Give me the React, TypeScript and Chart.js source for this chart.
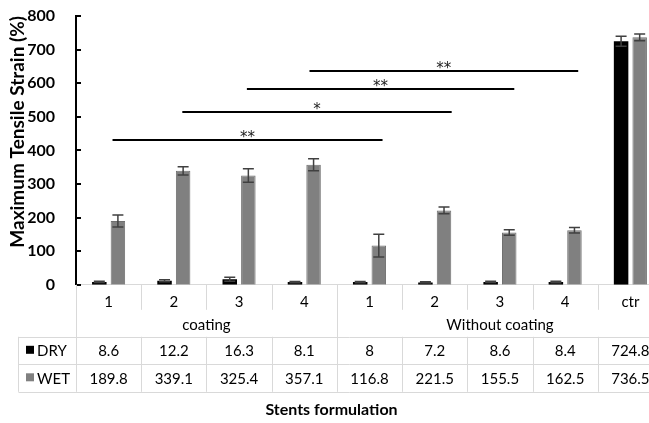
import React, { useEffect, useRef } from "react";
import { Chart, registerables } from "chart.js";

Chart.register(...registerables);

const FONT = "Lato, 'Open Sans', sans-serif";
const STAR_FONT = "'DejaVu Sans', sans-serif";

const categories = ["1", "2", "3", "4", "1", "2", "3", "4", "ctr"];
const groupLabels = ["coating", "Without coating"];
const groupStart = [0, 4];
const groupEnd = [3, 8];
const dryValues = [8.6, 12.2, 16.3, 8.1, 8, 7.2, 8.6, 8.4, 724.8];
const wetValues = [189.8, 339.1, 325.4, 357.1, 116.8, 221.5, 155.5, 162.5, 736.5];
const dryErrors = [2, 3, 6, 2, 2, 2, 2, 2, 15];
const wetErrors = [18, 12, 20, 18, 34, 10, 8, 8, 10];
const yTicks = [0, 100, 200, 300, 400, 500, 600, 700, 800];
const sigFrom = [0.06, 1.13, 2.12, 3.08];
const sigTo = [4.2, 5.26, 6.22, 7.2];
const sigLevel = [431, 515, 582, 637];
const sigLabel = ["**", "*", "**", "**"];

const DRY_COLOR = "#000000";
const WET_COLOR = "#808080";
const GRID = "#d9d9d9";

const errorPlugin = {
  id: "errorBars",
  afterDatasetsDraw(chart: any) {
    const ctx = chart.ctx;
    const y = chart.scales.y;
    const errs = [dryErrors, wetErrors];
    const vals = [dryValues, wetValues];
    ctx.save();
    ctx.strokeStyle = "#404040";
    ctx.lineWidth = 1.5;
    chart.data.datasets.forEach((_: any, di: number) => {
      const meta = chart.getDatasetMeta(di);
      meta.data.forEach((bar: any, i: number) => {
        const v = vals[di][i];
        const e = errs[di][i];
        const yt = y.getPixelForValue(v + e);
        const yb = y.getPixelForValue(Math.max(0, v - e));
        const cx = bar.x;
        const half = 5.5;
        ctx.beginPath();
        ctx.moveTo(cx, yt);
        ctx.lineTo(cx, yb);
        ctx.moveTo(cx - half, yt);
        ctx.lineTo(cx + half, yt);
        ctx.moveTo(cx - half, yb);
        ctx.lineTo(cx + half, yb);
        ctx.stroke();
      });
    });
    ctx.restore();
  },
};

const sigPlugin = {
  id: "significance",
  afterDatasetsDraw(chart: any) {
    const ctx = chart.ctx;
    const x = chart.scales.x;
    const y = chart.scales.y;
    ctx.save();
    ctx.strokeStyle = "#000";
    ctx.lineWidth = 2;
    ctx.fillStyle = "#222";
    ctx.font = `15px ${STAR_FONT}`;
    ctx.textAlign = "center";
    ctx.textBaseline = "alphabetic";
    for (let k = 0; k < sigLevel.length; k++) {
      const x1 = x.getPixelForValue(sigFrom[k]);
      const x2 = x.getPixelForValue(sigTo[k]);
      const py = Math.round(y.getPixelForValue(sigLevel[k]));
      ctx.beginPath();
      ctx.moveTo(x1, py);
      ctx.lineTo(x2, py);
      ctx.stroke();
      ctx.fillText(sigLabel[k], (x1 + x2) / 2, py + 2);
    }
    ctx.restore();
  },
};

const tablePlugin = {
  id: "dataTable",
  afterDraw(chart: any) {
    const ctx = chart.ctx;
    const x = chart.scales.x;
    const y = chart.scales.y;
    const ca = chart.chartArea;
    const n = categories.length;
    const b = ca.bottom;
    const bound = (i: number) => Math.round(x.getPixelForValue(i - 0.5)) + 0.5;
    const rightEdge = x.getPixelForValue(n - 0.5) + 20;
    const legendLeft = 18.5;
    const row0 = b + 52;
    const row1 = b + 79;
    const row2 = b + 107;

    ctx.save();
    ctx.strokeStyle = "#000";
    ctx.lineWidth = 2;
    yTicks.forEach((v) => {
      const py = Math.round(y.getPixelForValue(v));
      ctx.beginPath();
      ctx.moveTo(ca.left, py);
      ctx.lineTo(ca.left + 5, py);
      ctx.stroke();
    });

    ctx.strokeStyle = GRID;
    ctx.lineWidth = 1;
    for (let i = 0; i <= n; i++) {
      const bx = bound(i);
      const isGroupEdge = i === 0 || groupStart.indexOf(i) >= 0;
      ctx.beginPath();
      if (isGroupEdge) {
        ctx.moveTo(bx, b);
        ctx.lineTo(bx, row2);
      } else {
        ctx.moveTo(bx, b);
        ctx.lineTo(bx, b + 25);
        ctx.moveTo(bx, row0);
        ctx.lineTo(bx, row2);
      }
      ctx.stroke();
    }
    ctx.beginPath();
    ctx.moveTo(legendLeft, row0);
    ctx.lineTo(legendLeft, row2);
    ctx.stroke();
    [row0, row1, row2].forEach((ry) => {
      ctx.beginPath();
      ctx.moveTo(legendLeft, Math.round(ry) + 0.5);
      ctx.lineTo(rightEdge, Math.round(ry) + 0.5);
      ctx.stroke();
    });

    ctx.fillStyle = "#000";
    ctx.font = `15px ${FONT}`;
    ctx.textAlign = "center";
    ctx.textBaseline = "middle";
    for (let g = 0; g < groupLabels.length; g++) {
      const gx = (x.getPixelForValue(groupStart[g] - 0.5) + x.getPixelForValue(groupEnd[g] + 0.5)) / 2;
      ctx.fillText(groupLabels[g], gx, b + 40);
    }
    const rowsY = [(row0 + row1) / 2, (row1 + row2) / 2];
    const rowsV = [dryValues, wetValues];
    for (let r = 0; r < 2; r++) {
      for (let i = 0; i < n; i++) {
        ctx.fillText(String(rowsV[r][i]), x.getPixelForValue(i), rowsY[r] + 1);
      }
    }
    const keyColors = [DRY_COLOR, WET_COLOR];
    const keyNames = ["DRY", "WET"];
    ctx.textAlign = "left";
    for (let r = 0; r < 2; r++) {
      ctx.fillStyle = keyColors[r];
      ctx.fillRect(26, rowsY[r] - 4.5, 8, 8);
      ctx.fillStyle = "#000";
      ctx.fillText(keyNames[r], 37, rowsY[r] + 1);
    }
    ctx.restore();
  },
};

export default function App() {
  const ref = useRef<HTMLCanvasElement | null>(null);

  useEffect(() => {
    if (!ref.current) return;
    const chart = new Chart(ref.current, {
      type: "bar",
      data: {
        labels: categories,
        datasets: [
          {
            label: "DRY",
            data: dryValues,
            backgroundColor: DRY_COLOR,
            borderColor: "#000",
            borderWidth: 0,
            categoryPercentage: 0.57,
            barPercentage: 0.78,
          },
          {
            label: "WET",
            data: wetValues,
            backgroundColor: WET_COLOR,
            borderColor: "#707070",
            borderWidth: 1,
            categoryPercentage: 0.57,
            barPercentage: 0.78,
          },
        ],
      },
      options: {
        responsive: false,
        animation: false,
        layout: { padding: { top: 16, right: 17, left: 0, bottom: 0 } },
        plugins: {
          legend: { display: false },
          tooltip: { enabled: false },
          title: {
            display: true,
            position: "bottom",
            text: "Stents formulation",
            color: "#000",
            font: { family: FONT, size: 16, weight: "bold" },
            padding: { top: 0, bottom: 4 },
          },
        },
        scales: {
          x: {
            type: "category",
            grid: { display: false },
            border: { display: true, color: GRID, width: 1 },
            ticks: {
              color: "#000",
              font: { family: FONT, size: 15 },
              padding: 0,
              maxRotation: 0,
              autoSkip: false,
            },
            afterFit: (s: any) => {
              s.height = 115;
            },
          },
          y: {
            min: 0,
            max: 800,
            grid: { display: false },
            border: { display: true, color: "#000", width: 2 },
            afterBuildTicks: (s: any) => {
              s.ticks = yTicks.map((v) => ({ value: v }));
            },
            ticks: {
              color: "#000",
              font: { family: FONT, size: 16, weight: "bold" },
              padding: 13,
            },
            title: {
              display: true,
              text: "Maximum Tensile Strain (%)",
              color: "#000",
              align: "end",
              font: { family: FONT, size: 19, weight: "bold" },
              padding: { top: 6, bottom: 0 },
            },
            afterFit: (s: any) => {
              s.width = 76;
              s.paddingTop = 0;
              s.paddingBottom = 0;
            },
          },
        },
      },
      plugins: [errorPlugin, sigPlugin, tablePlugin],
    } as any);
    return () => chart.destroy();
  }, []);

  return (
    <div
      style={{
        position: "fixed",
        left: 0,
        top: 0,
        width: 649,
        height: 423,
        overflow: "hidden",
        background: "#fff",
      }}
    >
      <canvas ref={ref} width={680} height={423} style={{ display: "block", width: 680, height: 423 }} />
    </div>
  );
}
